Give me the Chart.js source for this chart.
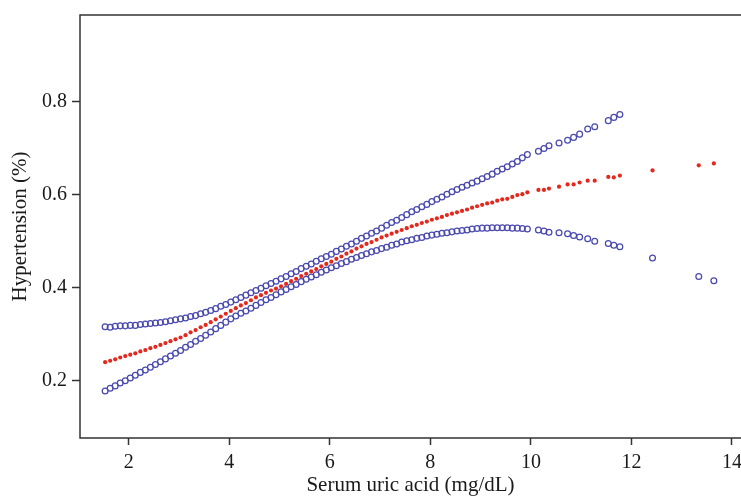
<!DOCTYPE html>
<html>
<head>
<meta charset="utf-8">
<script src="https://cdn.jsdelivr.net/npm/chart.js@4"></script>
<style>
html,body{margin:0;padding:0;background:#fff;}
#wrap{width:741px;height:496px;}
</style>
</head>
<body>
<div id="wrap"><canvas id="c" width="741" height="496"></canvas></div>
<script>
// Serum uric acid (mg/dL) values at which the curve is evaluated
const uricAcid = [
  1.53,1.63,1.73,1.83,1.93, 2.03,2.13,2.23,2.33,2.43, 2.53,2.63,2.73,2.83,2.93,
  3.03,3.13,3.23,3.33,3.43, 3.53,3.63,3.73,3.83,3.93, 4.03,4.13,4.23,4.33,4.43,
  4.53,4.63,4.73,4.83,4.93, 5.03,5.13,5.23,5.33,5.43, 5.53,5.63,5.73,5.83,5.93,
  6.03,6.13,6.23,6.33,6.43, 6.53,6.63,6.73,6.83,6.93, 7.03,7.13,7.23,7.33,7.43,
  7.53,7.63,7.73,7.83,7.93, 8.03,8.13,8.23,8.33,8.43, 8.53,8.63,8.73,8.83,8.93,
  9.03,9.13,9.23,9.33,9.43, 9.53,9.63,9.73,9.83,9.93,
  10.15,10.26,10.36,10.56,10.73,10.85,10.97,11.13,11.27,11.54,11.65,11.77,12.42,13.34,13.64
];
// Fitted probability of hypertension (red dots)
const fitted = [
  .240,.243,.246,.250,.253, .256,.259,.263,.266,.270, .273,.277,.281,.285,.289,
  .293,.298,.304,.309,.315, .320,.326,.332,.338,.344, .350,.356,.362,.367,.373,
  .379,.384,.389,.394,.398, .403,.408,.414,.419,.425, .430,.435,.440,.446,.451,
  .456,.462,.467,.473,.478, .484,.489,.494,.498,.503, .508,.512,.516,.520,.524,
  .528,.532,.535,.539,.542, .546,.549,.552,.556,.559, .562,.565,.568,.572,.575,
  .578,.581,.583,.587,.590, .591,.595,.599,.601,.605,
  .610,.610,.613,.617,.622,.622,.626,.630,.630,.638,.637,.641,.652,.663,.667
];
// Upper 95% CI (blue circles)
const upperCI = [
  .316,.315,.317,.318,.318, .319,.319,.321,.322,.323, .324,.325,.327,.329,.331,
  .333,.335,.338,.340,.344, .347,.351,.355,.360,.364, .369,.374,.379,.384,.389,
  .394,.399,.404,.409,.414, .419,.424,.430,.435,.441, .446,.451,.457,.462,.467,
  .472,.478,.483,.489,.494, .500,.506,.511,.517,.522, .528,.534,.540,.545,.551,
  .557,.563,.568,.574,.579, .585,.590,.595,.601,.606, .611,.616,.620,.625,.629,
  .634,.639,.644,.650,.655, .660,.666,.671,.679,.686,
  .693,.699,.705,.711,.717,.723,.730,.741,.746,.759,.766,.772,null,null,null
];
// Lower 95% CI (blue circles)
const lowerCI = [
  .178,.184,.189,.195,.200, .206,.212,.218,.223,.229, .235,.241,.247,.253,.259,
  .265,.272,.278,.285,.291, .298,.305,.312,.319,.326, .333,.339,.345,.350,.356,
  .362,.368,.374,.379,.385, .391,.396,.402,.407,.413, .418,.423,.428,.433,.438,
  .443,.447,.452,.456,.461, .465,.469,.473,.477,.480, .484,.487,.491,.494,.498,
  .501,.503,.506,.508,.511, .513,.515,.517,.518,.520, .522,.523,.524,.526,.527,
  .528,.528,.529,.529,.529, .529,.528,.528,.527,.526,
  .524,.522,.519,.518,.516,.512,.509,.505,.500,.495,.491,.488,.464,.424,.415
];
const xTickValues = [2, 4, 6, 8, 10, 12, 14];
const yTickValues = [0.2, 0.4, 0.6, 0.8];

const toPoints = ys => uricAcid.map((x, i) => ({x: x, y: ys[i]})).filter(p => p.y !== null);

const SERIF = '"Liberation Serif", "Times New Roman", serif';
const AXIS = '#333333';
const TEXT = '#1a1a1a';

// open frame: top, left and bottom edges (the right edge is cut off in the original)
const boxPlugin = {
  id: 'box',
  afterDatasetsDraw(chart) {
    const {ctx, chartArea: a, width} = chart;
    ctx.save();
    ctx.strokeStyle = AXIS;
    ctx.lineWidth = 1.5;
    ctx.beginPath();
    ctx.moveTo(width, a.top);
    ctx.lineTo(a.left, a.top);
    ctx.lineTo(a.left, a.bottom);
    ctx.lineTo(width, a.bottom);
    ctx.stroke();
    ctx.restore();
  }
};

new Chart(document.getElementById('c'), {
  type: 'scatter',
  data: {
    datasets: [
      {label: 'Fitted', data: toPoints(fitted), pointStyle: 'circle', pointRadius: 2.1,
       pointBackgroundColor: '#e3281e', pointBorderColor: '#e3281e', pointBorderWidth: 0, order: 0},
      {label: 'Upper', data: toPoints(upperCI), pointStyle: 'circle', pointRadius: 2.9,
       pointBackgroundColor: 'rgba(255,255,255,0)', pointBorderColor: '#4848ae', pointBorderWidth: 1.25, order: 1},
      {label: 'Lower', data: toPoints(lowerCI), pointStyle: 'circle', pointRadius: 2.9,
       pointBackgroundColor: 'rgba(255,255,255,0)', pointBorderColor: '#4848ae', pointBorderWidth: 1.25, order: 2}
    ]
  },
  options: {
    responsive: false,
    devicePixelRatio: 1,
    animation: false,
    layout: {autoPadding: false, padding: {top: 15, right: 0, bottom: 0, left: 0}},
    plugins: {legend: {display: false}, tooltip: {enabled: false}},
    scales: {
      x: {
        type: 'linear', min: 1.03, max: 14.18,
        afterBuildTicks: s => { s.ticks = xTickValues.map(v => ({value: v})); },
        afterFit: s => { s.height = 58; s.paddingLeft = 0; s.paddingRight = 0; },
        border: {display: false},
        grid: {display: true, drawOnChartArea: false, drawTicks: true, tickLength: 7, tickWidth: 1.5, tickColor: AXIS},
        ticks: {autoSkip: false, maxRotation: 0, padding: 6, color: TEXT, font: {family: SERIF, size: 20},
                callback: v => String(v)},
        title: {display: true, text: 'Serum uric acid (mg/dL)', color: TEXT, font: {family: SERIF, size: 21},
                padding: {top: 0, bottom: -2}}
      },
      y: {
        type: 'linear', min: 0.077, max: 0.986,
        afterBuildTicks: s => { s.ticks = yTickValues.map(v => ({value: v})); },
        afterFit: s => { s.width = 80; s.paddingTop = 0; s.paddingBottom = 0; },
        border: {display: false},
        grid: {display: true, drawOnChartArea: false, drawTicks: true, tickLength: 8, tickWidth: 1.5, tickColor: AXIS},
        ticks: {autoSkip: false, padding: 5, color: TEXT, font: {family: SERIF, size: 20},
                callback: v => Number(v).toFixed(1)},
        title: {display: true, text: 'Hypertension (%)', color: TEXT, font: {family: SERIF, size: 21},
                padding: {top: 8, bottom: 0}}
      }
    }
  },
  plugins: [boxPlugin]
});
</script>
</body>
</html>
